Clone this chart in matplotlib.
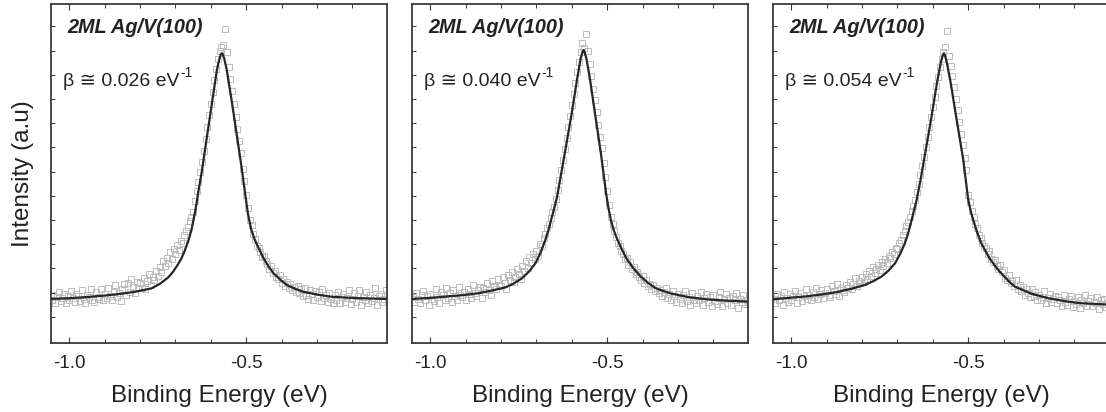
import matplotlib
matplotlib.use("Agg")
import matplotlib.pyplot as plt

plt.rcParams['font.family'] = ['Liberation Sans', 'DejaVu Sans']

# ---------------- data ----------------
energy = [
    -1.050, -1.045, -1.040, -1.035, -1.030, -1.025, -1.020, -1.015, -1.010, -1.005,
    -1.000, -0.995, -0.990, -0.985, -0.980, -0.975, -0.970, -0.965, -0.960, -0.955,
    -0.950, -0.945, -0.940, -0.935, -0.930, -0.925, -0.920, -0.915, -0.910, -0.905,
    -0.900, -0.895, -0.890, -0.885, -0.880, -0.875, -0.870, -0.865, -0.860, -0.855,
    -0.850, -0.845, -0.840, -0.835, -0.830, -0.825, -0.820, -0.815, -0.810, -0.805,
    -0.800, -0.795, -0.790, -0.785, -0.780, -0.775, -0.770, -0.765, -0.760, -0.755,
    -0.750, -0.745, -0.740, -0.735, -0.730, -0.725, -0.720, -0.715, -0.710, -0.705,
    -0.700, -0.695, -0.690, -0.685, -0.680, -0.675, -0.670, -0.665, -0.660, -0.655,
    -0.650, -0.645, -0.640, -0.635, -0.630, -0.625, -0.620, -0.615, -0.610, -0.605,
    -0.600, -0.595, -0.590, -0.585, -0.580, -0.575, -0.570, -0.565, -0.560, -0.555,
    -0.550, -0.545, -0.540, -0.535, -0.530, -0.525, -0.520, -0.515, -0.510, -0.505,
    -0.500, -0.495, -0.490, -0.485, -0.480, -0.475, -0.470, -0.465, -0.460, -0.455,
    -0.450, -0.445, -0.440, -0.435, -0.430, -0.425, -0.420, -0.415, -0.410, -0.405,
    -0.400, -0.395, -0.390, -0.385, -0.380, -0.375, -0.370, -0.365, -0.360, -0.355,
    -0.350, -0.345, -0.340, -0.335, -0.330, -0.325, -0.320, -0.315, -0.310, -0.305,
    -0.300, -0.295, -0.290, -0.285, -0.280, -0.275, -0.270, -0.265, -0.260, -0.255,
    -0.250, -0.245, -0.240, -0.235, -0.230, -0.225, -0.220, -0.215, -0.210, -0.205,
    -0.200, -0.195, -0.190, -0.185, -0.180, -0.175, -0.170, -0.165, -0.160, -0.155,
    -0.150, -0.145, -0.140, -0.135, -0.130, -0.125, -0.120, -0.115, -0.110, -0.105,
    -0.100,
]

counts_1 = [
    .128, .141, .119, .135, .150, .124, .132, .146, .118, .139,
    .127, .152, .133, .121, .144, .138, .125, .156, .131, .117,
    .142, .135, .160, .128, .122, .149, .137, .131, .158, .126,
    .145, .133, .162, .139, .127, .151, .170, .136, .148, .124,
    .158, .173, .141, .176, .150, .189, .165, .147, .181, .161,
    .176, .162, .191, .158, .183, .204, .171, .195, .186, .213,
    .199, .224, .208, .241, .226, .252, .237, .268, .249, .276,
    .262, .289, .274, .301, .296, .318, .329, .341, .359, .372,
    .385, .418, .447, .474, .503, .534, .566, .601, .638, .672,
    .706, .741, .776, .808, .838, .862, .872, .880, .925, .858,
    .815, .780, .742, .704, .668, .632, .596, .560, .514, .479,
    .436, .398, .364, .347, .322, .308, .287, .281, .268, .255,
    .258, .241, .232, .219, .226, .207, .212, .196, .189, .201,
    .176, .188, .168, .181, .162, .173, .156, .165, .151, .169,
    .147, .158, .139, .162, .143, .131, .155, .146, .128, .152,
    .137, .149, .125, .158, .133, .141, .121, .147, .130, .118,
    .143, .126, .151, .119, .137, .145, .122, .133, .157, .116,
    .131, .148, .120, .139, .155, .113, .136, .127, .150, .118,
    .142, .125, .134, .161, .112, .138, .146, .121, .131, .155,
    .124,
]

counts_2 = [
    .136, .121, .148, .130, .117, .143, .154, .126, .139, .112,
    .145, .131, .124, .158, .137, .119, .150, .141, .128, .163,
    .133, .147, .122, .156, .139, .128, .165, .142, .135, .151,
    .127, .160, .144, .133, .171, .148, .139, .157, .166, .132,
    .162, .149, .178, .155, .141, .183, .167, .159, .190, .172,
    .168, .194, .177, .159, .201, .186, .209, .181, .196, .219,
    .205, .188, .226, .213, .241, .220, .254, .236, .262, .249,
    .271, .258, .292, .285, .309, .322, .338, .351, .369, .386,
    .402, .425, .452, .481, .509, .540, .572, .604, .637, .669,
    .703, .735, .768, .799, .829, .858, .884, .871, .912, .861,
    .822, .789, .750, .716, .681, .643, .609, .574, .531, .489,
    .447, .406, .372, .351, .330, .314, .296, .285, .271, .262,
    .249, .252, .231, .238, .217, .224, .203, .209, .194, .186,
    .197, .178, .186, .167, .175, .158, .170, .152, .163, .147,
    .155, .138, .149, .161, .132, .144, .127, .153, .139, .121,
    .146, .130, .118, .141, .152, .124, .135, .113, .147, .128,
    .119, .138, .126, .149, .111, .132, .144, .120, .136, .109,
    .141, .125, .116, .137, .150, .108, .129, .145, .118, .133,
    .112, .139, .126, .147, .104, .131, .121, .143, .115, .128,
    .117,
]

counts_3 = [
    .131, .118, .144, .126, .139, .112, .150, .133, .121, .146,
    .128, .140, .153, .119, .135, .147, .124, .138, .158, .130,
    .143, .126, .151, .137, .162, .129, .145, .156, .134, .148,
    .159, .141, .136, .167, .152, .145, .174, .139, .162, .155,
    .149, .171, .163, .180, .158, .174, .191, .169, .183, .177,
    .196, .181, .205, .188, .212, .199, .223, .207, .218, .231,
    .216, .239, .228, .247, .236, .258, .251, .269, .264, .281,
    .276, .294, .305, .318, .329, .344, .356, .371, .389, .404,
    .423, .446, .470, .496, .523, .549, .578, .607, .636, .666,
    .696, .727, .757, .786, .813, .839, .858, .872, .921, .848,
    .818, .788, .754, .721, .688, .652, .617, .583, .546, .509,
    .438, .417, .389, .372, .351, .338, .318, .310, .296, .287,
    .281, .262, .270, .249, .238, .246, .227, .219, .231, .208,
    .214, .193, .186, .201, .176, .182, .169, .187, .158, .171,
    .152, .166, .141, .158, .147, .136, .160, .139, .149, .128,
    .143, .126, .137, .152, .119, .134, .145, .122, .131, .140,
    .117, .135, .126, .109, .142, .121, .113, .131, .138, .107,
    .124, .115, .136, .102, .128, .119, .141, .110, .125, .133,
    .108, .122, .117, .135, .101, .126, .114, .129, .106, .119,
    .112,
]

# fitted curves
fit_x_1 = [-1.052, -1.000, -0.958, -0.910, -0.863, -0.815, -0.768, -0.745, -0.721,
           -0.707, -0.693, -0.683, -0.674, -0.664, -0.655, -0.644, -0.634, -0.625,
           -0.611, -0.597, -0.583, -0.576, -0.572, -0.569, -0.566, -0.562, -0.555,
           -0.540, -0.526, -0.512, -0.503, -0.495, -0.486, -0.476, -0.465, -0.451,
           -0.437, -0.423, -0.404, -0.385, -0.362, -0.338, -0.300, -0.263, -0.220,
           -0.180, -0.102]
fit_y_1 = [0.130, 0.132, 0.135, 0.139, 0.144, 0.151, 0.161, 0.174, 0.193,
           0.210, 0.232, 0.250, 0.272, 0.300, 0.333, 0.390, 0.455, 0.510,
           0.609, 0.707, 0.805, 0.838, 0.851, 0.855, 0.851, 0.838, 0.805,
           0.707, 0.609, 0.510, 0.440, 0.380, 0.335, 0.305, 0.280, 0.250,
           0.226, 0.206, 0.187, 0.171, 0.160, 0.151, 0.143, 0.137, 0.134,
           0.132, 0.130]

fit_x_2 = [-1.052, -1.000, -0.957, -0.910, -0.863, -0.825, -0.788, -0.765, -0.741,
           -0.722, -0.703, -0.689, -0.675, -0.665, -0.656, -0.642, -0.631, -0.620,
           -0.600, -0.585, -0.575, -0.570, -0.567, -0.564, -0.559, -0.549, -0.535,
           -0.518, -0.503, -0.496, -0.489, -0.482, -0.475, -0.460, -0.446, -0.428,
           -0.409, -0.386, -0.362, -0.320, -0.268, -0.220, -0.180, -0.102]
fit_y_2 = [0.130, 0.133, 0.137, 0.141, 0.147, 0.155, 0.164, 0.175, 0.191,
           0.210, 0.235, 0.265, 0.304, 0.338, 0.373, 0.430, 0.495, 0.560,
           0.680, 0.780, 0.840, 0.858, 0.864, 0.858, 0.840, 0.780, 0.680,
           0.560, 0.440, 0.395, 0.360, 0.334, 0.314, 0.279, 0.250, 0.223,
           0.200, 0.178, 0.161, 0.146, 0.135, 0.129, 0.126, 0.122]

fit_x_3 = [-1.052, -1.010, -0.963, -0.915, -0.868, -0.830, -0.793, -0.769, -0.745,
           -0.726, -0.707, -0.693, -0.679, -0.669, -0.660, -0.646, -0.635, -0.625,
           -0.605, -0.588, -0.577, -0.572, -0.569, -0.566, -0.561, -0.550, -0.533,
           -0.514, -0.500, -0.492, -0.485, -0.474, -0.463, -0.440, -0.415, -0.390,
           -0.368, -0.320, -0.273, -0.230, -0.190, -0.102]
fit_y_3 = [0.129, 0.133, 0.137, 0.143, 0.151, 0.160, 0.171, 0.182, 0.196,
           0.213, 0.235, 0.262, 0.294, 0.327, 0.363, 0.422, 0.480, 0.540,
           0.660, 0.770, 0.830, 0.849, 0.855, 0.849, 0.830, 0.770, 0.660,
           0.540, 0.422, 0.385, 0.360, 0.324, 0.294, 0.250, 0.215, 0.187,
           0.166, 0.145, 0.132, 0.124, 0.118, 0.113]

panel_titles = ["2ML Ag/V(100)", "2ML Ag/V(100)", "2ML Ag/V(100)"]
beta_labels = ["β ≅ 0.026 eV", "β ≅ 0.040 eV", "β ≅ 0.054 eV"]
beta_exponent = "-1"
xtick_values = [-1.0, -0.5]
xtick_labels = ["-1.0", "-0.5"]
xminor_values = [-0.9, -0.8, -0.7, -0.6, -0.4, -0.3, -0.2]
ytick_values = [0.077, 0.148, 0.220, 0.291, 0.363, 0.434, 0.505, 0.577,
                0.648, 0.720, 0.791, 0.862, 0.934]

counts = [counts_1, counts_2, counts_3]
fits = [(fit_x_1, fit_y_1), (fit_x_2, fit_y_2), (fit_x_3, fit_y_3)]

# ---------------- figure ----------------
W, H = 1106, 412
fig = plt.figure(figsize=(W / 100, H / 100), dpi=100)
lefts_px = [51, 412, 773]
ax_w_px = 336
top_px, bot_px = 4, 343

text_col = '#222222'
spine_col = '#3a3a3a'

for i in range(3):
    ax = fig.add_axes([lefts_px[i] / W, (H - bot_px) / H,
                       ax_w_px / W, (bot_px - top_px) / H])
    ax.plot(energy, counts[i], linestyle='none', marker='s', markersize=4.4,
            markerfacecolor='none', markeredgecolor='#bcbcbc',
            markeredgewidth=0.7, zorder=2)
    fx, fy = fits[i]
    ax.plot(fx, fy, color='#262626', lw=1.6, zorder=3)

    ax.set_xlim(-1.052, -0.102)
    ax.set_ylim(0, 1)
    ax.set_xticks(xtick_values)
    ax.set_xticklabels(xtick_labels)
    ax.set_xticks(xminor_values, minor=True)
    ax.set_yticks(ytick_values)
    ax.set_yticklabels([])
    ax.tick_params(axis='x', which='both', direction='in', top=True,
                   colors=spine_col, labelcolor=text_col, labelsize=13.5, pad=9)
    ax.tick_params(axis='x', which='major', length=4, width=0.8)
    ax.tick_params(axis='x', which='minor', length=3, width=0.7)
    ax.tick_params(axis='y', which='major', direction='in', length=3,
                   width=0.7, colors=spine_col, left=True, right=False)
    for s in ax.spines.values():
        s.set_color(spine_col)
        s.set_linewidth(1.3)

    ax.text(0.048, 0.932, panel_titles[i], transform=ax.transAxes,
            fontsize=14.3, fontweight='bold', fontstyle='italic',
            color=text_col, ha='left', va='center')
    t = ax.text(0.036, 0.77, beta_labels[i], transform=ax.transAxes,
                fontsize=14, color=text_col, ha='left', va='center',
                family=['Liberation Sans', 'DejaVu Sans'])
    ax.annotate(beta_exponent, xy=(1.0, 0.62), xycoords=t,
                xytext=(0.5, 0), textcoords='offset points',
                fontsize=10, color=text_col, ha='left', va='bottom')
    ax.set_xlabel("Binding Energy (eV)", fontsize=17.5, color=text_col,
                  labelpad=9)
    if i == 0:
        ax.set_ylabel("Intensity (a.u)", fontsize=17.5, color=text_col,
                      labelpad=9)

fig.savefig("out.png", dpi=100)
